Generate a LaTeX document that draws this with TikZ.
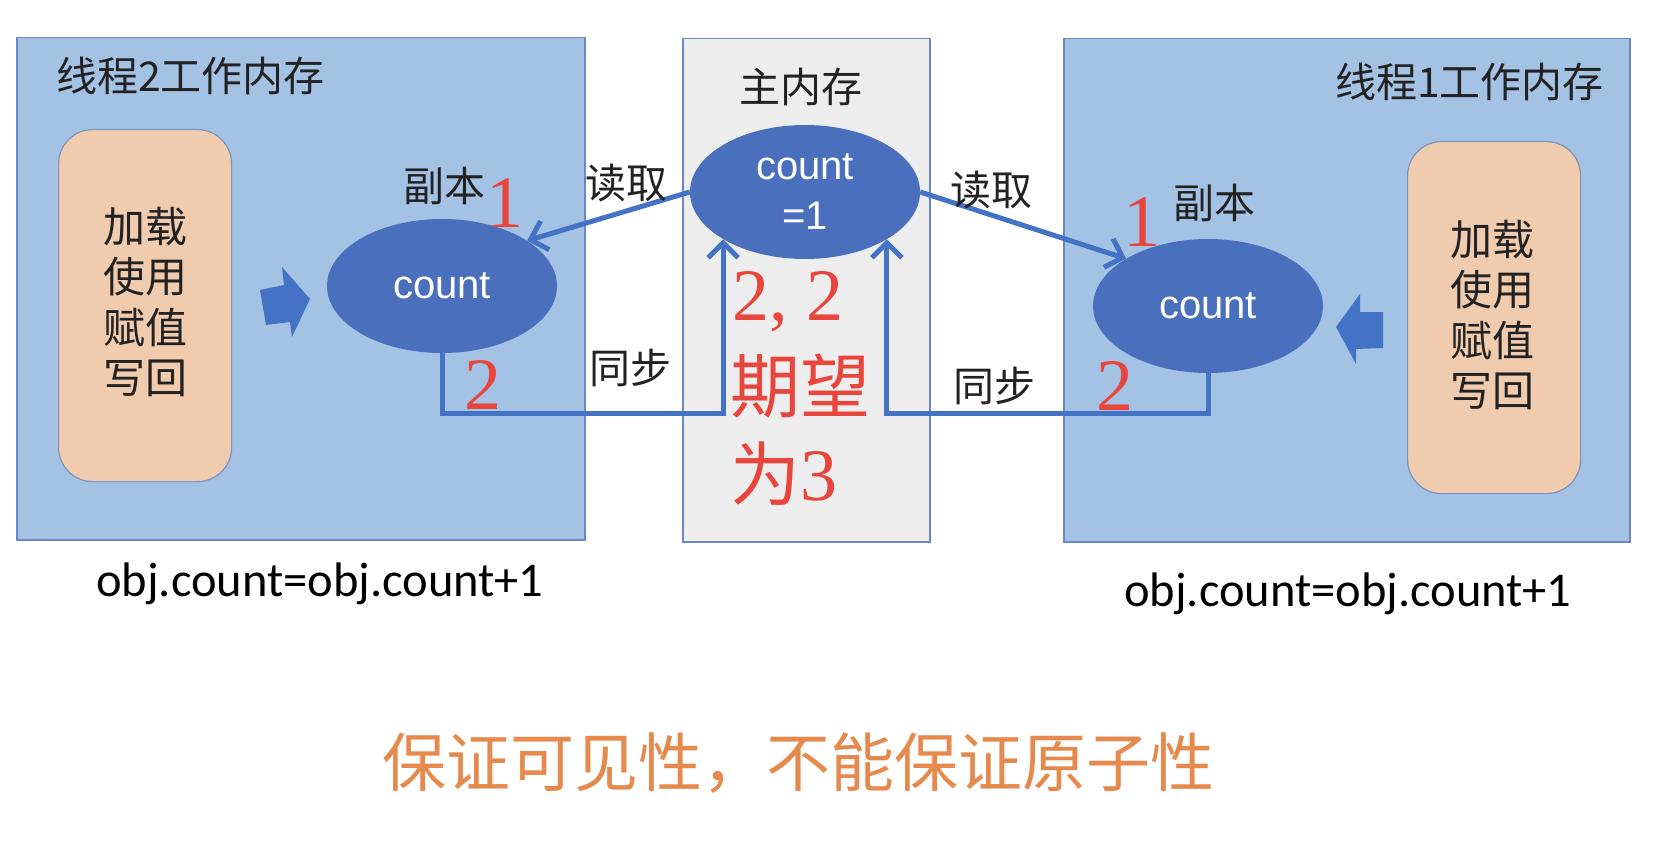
\documentclass[tikz,border=0pt]{standalone}
\usepackage{fontspec}
\newfontfamily\cjk{Noto Sans CJK SC}
\newfontfamily\latinsans{Liberation Sans}
\newfontfamily\calib{Carlito}
\newfontfamily\sdig{Liberation Serif}
\usetikzlibrary{arrows.meta,shapes.geometric}
\definecolor{boxblue}{HTML}{A4C2E4}
\definecolor{boxedge}{HTML}{6A88C6}
\definecolor{ellblue}{HTML}{4A6FBD}
\definecolor{lineblue}{HTML}{4472C4}
\definecolor{peach}{HTML}{F1CBAE}
\definecolor{peachedge}{HTML}{7F93BE}
\definecolor{midgray}{HTML}{EDEDED}
\definecolor{redtxt}{HTML}{E8453C}
\definecolor{orangetxt}{HTML}{E6894D}
\definecolor{txt}{HTML}{222222}
\begin{document}
\begin{tikzpicture}[x=1pt,y=-1pt,
  region/.style={draw=boxedge, line width=1.5pt, fill=boxblue, anchor=north west, inner sep=0pt},
  midregion/.style={draw=boxedge, line width=1.5pt, fill=midgray, anchor=north west, inner sep=0pt},
  ops/.style={draw=peachedge, line width=1.2pt, fill=peach, rounded corners=34pt, anchor=north west,
    inner sep=0pt, minimum width=173pt, minimum height=352pt},
  ell/.style={ellipse, fill=ellblue, inner sep=0pt, minimum width=230pt, minimum height=134pt,
    text=white, font=\latinsans\fontsize{40}{50}\selectfont, align=center},
  lbl/.style={font=\cjk\fontsize{41}{48}\selectfont, text=txt, inner sep=0pt},
  oplbl/.style={font=\cjk\fontsize{42}{50.5}\selectfont, text=txt, inner sep=0pt, align=center},
  rednum/.style={font=\sdig\fontsize{74}{80}\selectfont, text=redtxt, inner sep=0pt},
  redcjk/.style={font=\cjk\fontsize{70}{80}\selectfont, text=redtxt, inner sep=0pt},
  code/.style={font=\calib\fontsize{48.5}{56}\selectfont, text=black, inner sep=0pt},
  conn/.style={draw=lineblue, line width=5pt, -{Straight Barb[length=15pt,width=30pt]}},
  blockarrow/.style={fill=lineblue}
]
\useasboundingbox (0,0) rectangle (1658,856);
\fill[white] (0,0) rectangle (1658,856);

% regions
\node[region, minimum width=568pt, minimum height=502pt] (w2) at (16,37) {};
\node[midregion, minimum width=247pt, minimum height=503pt] (mainmem) at (682,38) {};
\node[region, minimum width=566pt, minimum height=503pt] (w1) at (1063,38) {};

% operation boxes
\node[ops] (op2) at (58,129) {};
\node[ops] (op1) at (1407,141) {};
\node[oplbl] (op2t) at (145,302) {加载\\使用\\赋值\\写回};
\node[oplbl] (op1t) at (1492,315) {加载\\使用\\赋值\\写回};

% titles
\node[lbl, anchor=west] (t2) at (56,76) {线程2工作内存};
\node[lbl, anchor=east] (t1) at (1604,82) {线程1工作内存};
\node[lbl] (tm) at (801,87) {主内存};

% ellipses
\node[ell] (c2) at (442,286) {count};
\node[ell] (mm) at (805,192) {count\\=1};
\node[ell] (c1) at (1208,306) {count};

% block arrows
\fill[blockarrow] (260,290) -- (284,285) -- (282,267) -- (310,299) -- (292,337) -- (290,322) -- (266,325) -- cycle;
\fill[blockarrow] (1383,312) -- (1360,312) -- (1360,294) -- (1336,327) -- (1356,364) -- (1356,349) -- (1383,348) -- cycle;

% connectors
\coordinate (syncrow) at (0,413);
\draw[conn] (mm.west) -- (c2.28);
\draw[conn] (mm.east) -- (c1.150);
\draw[conn] (c2.south) -- (c2.south |- syncrow) -| (mm.210.6);
\draw[conn] (c1.south) -- (c1.south |- syncrow) -| (mm.-30.6);

% labels
\node[lbl] (cp2) at (444,186) {副本};
\node[lbl] (cp1) at (1214,203) {副本};
\node[lbl] (rd2) at (626,183) {读取};
\node[lbl] (rd1) at (991,190) {读取};
\node[lbl] (sy2) at (630,368) {同步};
\node[lbl] (sy1) at (994,386) {同步};

\node[rednum] (n1l) at (505,203) {1};
\node[rednum] (n1r) at (1142,222) {1};
\node[rednum] (n2l) at (483,385) {2};
\node[rednum] (n2r) at (1115,386) {2};

\node[rednum, anchor=west] (e1) at (732,302) {2, 2};
\node[redcjk, anchor=west] (e2) at (730,386) {期望};
\node[redcjk, anchor=west] (e3) at (730,474) {为{\sdig\fontsize{74}{80}\selectfont 3}};

% code
\node[code] (code2) at (320,584) {obj.count=obj.count+1};
\node[code] (code1) at (1348,594) {obj.count=obj.count+1};

% conclusion
\node[font=\cjk\fontsize{64}{72}\selectfont, text=orangetxt, inner sep=0pt] (concl) at (798,763) {保证可见性，不能保证原子性};
\end{tikzpicture}
\end{document}
